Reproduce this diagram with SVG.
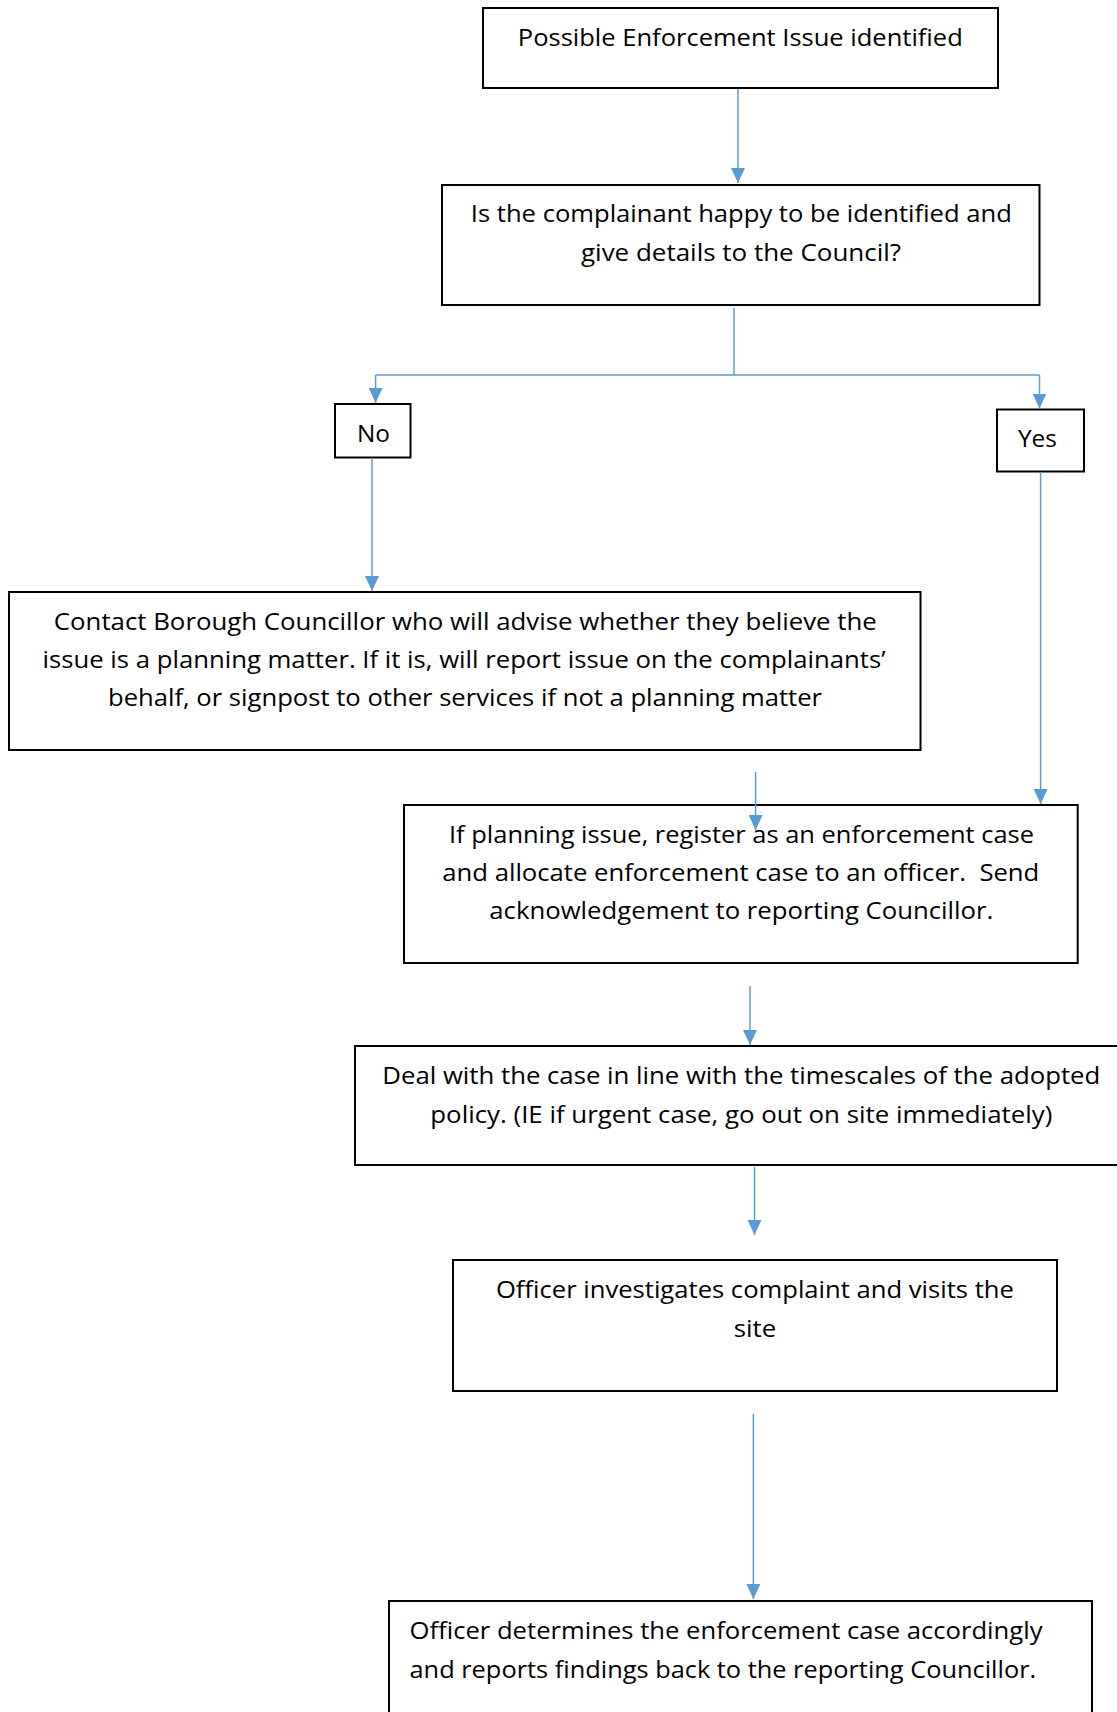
<svg xmlns="http://www.w3.org/2000/svg" width="1117" height="1712" viewBox="0 0 1117 1712">
<style>
.box{fill:#fff;stroke:#000;stroke-width:2}
.t{font-family:"Open Sans","Liberation Sans",sans-serif;font-size:24px;fill:#000;text-anchor:middle}
.tl{font-family:"Open Sans","Liberation Sans",sans-serif;font-size:24px;fill:#000}
.c{fill:none;stroke:#5B9BD5;stroke-width:1.5}
</style>
<defs>
<marker id="ah" markerUnits="userSpaceOnUse" markerWidth="15" markerHeight="14" refX="15" refY="7" orient="auto">
<path d="M0,0 L15,7 L0,14 z" fill="#5B9BD5"/>
</marker>
</defs>
<rect width="1117" height="1712" fill="#fff"/>
<g id="n1">
<rect class="box" x="483" y="8" width="515" height="80"/>
<text class="t" x="740.3" y="46" textLength="445" lengthAdjust="spacingAndGlyphs">Possible Enforcement Issue identified</text>
</g>
<g id="n2">
<rect class="box" x="442" y="185" width="597.5" height="120"/>
<text class="t" x="741.3" y="222" textLength="541" lengthAdjust="spacingAndGlyphs">Is the complainant happy to be identified and</text>
<text class="t" x="741" y="261" textLength="320" lengthAdjust="spacingAndGlyphs">give details to the Council?</text>
</g>
<g id="n_no">
<rect class="box" x="335" y="404" width="75.5" height="53.5"/>
<text class="t" x="373.5" y="442" textLength="33" lengthAdjust="spacingAndGlyphs">No</text>
</g>
<g id="n_yes">
<rect class="box" x="997" y="409.5" width="87" height="62"/>
<text class="t" x="1037.4" y="447" textLength="39" lengthAdjust="spacingAndGlyphs">Yes</text>
</g>
<g id="n3">
<rect class="box" x="9" y="592" width="911.5" height="158"/>
<text class="t" x="465.3" y="630" textLength="823" lengthAdjust="spacingAndGlyphs">Contact Borough Councillor who will advise whether they believe the</text>
<text class="t" x="464" y="668" textLength="843" lengthAdjust="spacingAndGlyphs">issue is a planning matter. If it is, will report issue on the complainants’</text>
<text class="t" x="465" y="706" textLength="714" lengthAdjust="spacingAndGlyphs">behalf, or signpost to other services if not a planning matter</text>
</g>
<g id="n4">
<rect class="box" x="404" y="805" width="673.7" height="158"/>
<text class="t" x="741.5" y="843" textLength="585" lengthAdjust="spacingAndGlyphs">If planning issue, register as an enforcement case</text>
<text class="t" x="740.8" y="881" textLength="597" lengthAdjust="spacingAndGlyphs" style="white-space:pre" xml:space="preserve">and allocate enforcement case to an officer.  Send</text>
<text class="t" x="741.3" y="919" textLength="504" lengthAdjust="spacingAndGlyphs">acknowledgement to reporting Councillor.</text>
</g>
<g id="n5">
<rect class="box" x="355" y="1046" width="780" height="119"/>
<text class="t" x="741.3" y="1084" textLength="718" lengthAdjust="spacingAndGlyphs">Deal with the case in line with the timescales of the adopted</text>
<text class="t" x="741.3" y="1122.5" textLength="622" lengthAdjust="spacingAndGlyphs">policy. (IE if urgent case, go out on site immediately)</text>
</g>
<g id="n6">
<rect class="box" x="453" y="1260" width="604" height="131"/>
<text class="t" x="754.9" y="1298" textLength="518" lengthAdjust="spacingAndGlyphs">Officer investigates complaint and visits the</text>
<text class="t" x="755" y="1336.5" textLength="42.6" lengthAdjust="spacingAndGlyphs">site</text>
</g>
<g id="n7">
<rect class="box" x="389" y="1601" width="703" height="140"/>
<text class="tl" x="409.5" y="1639" textLength="633" lengthAdjust="spacingAndGlyphs">Officer determines the enforcement case accordingly</text>
<text class="tl" x="409.5" y="1678" textLength="626.7" lengthAdjust="spacingAndGlyphs">and reports findings back to the reporting Councillor.</text>
</g>
<g id="connectors">
<line class="c" x1="738" y1="89" x2="738" y2="183" marker-end="url(#ah)"/>
<polyline class="c" points="734,308 734,375"/>
<polyline class="c" points="375.6,375 1039.5,375"/>
<line class="c" x1="375.6" y1="375" x2="375.6" y2="403" marker-end="url(#ah)"/>
<line class="c" x1="1039.5" y1="375" x2="1039.5" y2="408.5" marker-end="url(#ah)"/>
<line class="c" x1="372" y1="458" x2="372" y2="591" marker-end="url(#ah)"/>
<line class="c" x1="1040.6" y1="472" x2="1040.6" y2="804" marker-end="url(#ah)"/>
<line class="c" x1="755.6" y1="772" x2="755.6" y2="830" marker-end="url(#ah)"/>
<line class="c" x1="750" y1="986" x2="750" y2="1045" marker-end="url(#ah)"/>
<line class="c" x1="754.5" y1="1167" x2="754.5" y2="1235" marker-end="url(#ah)"/>
<line class="c" x1="753.4" y1="1414" x2="753.4" y2="1599" marker-end="url(#ah)"/>
</g>
</svg>
